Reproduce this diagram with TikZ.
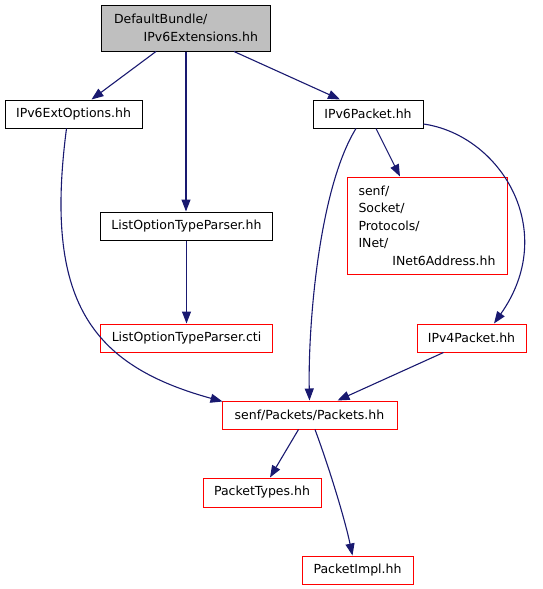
\documentclass[tikz,border=0pt]{standalone}
\usepackage{fontspec}
\setmainfont{DejaVu Sans}
\usetikzlibrary{arrows.meta,calc}
\definecolor{edgeblue}{HTML}{191970}
\definecolor{topgray}{HTML}{BFBFBF}
\definecolor{redb}{HTML}{FF0000}
\begin{document}
\begin{tikzpicture}[x=1pt,y=-1pt,
  box/.style={draw=black,line width=1pt,inner sep=0pt,minimum height=28pt,font=\fontsize{12.5}{17.5}\selectfont},
  redbox/.style={box,draw=redb},
  edge/.style={draw=edgeblue,line width=1.1pt,-{Triangle[length=12pt,width=9pt]}}]
\useasboundingbox (0,0) rectangle (543,589);
\node[box,fill=topgray,minimum width=169pt,minimum height=46pt] (top) at (186,28)
  {\parbox{144pt}{\raggedright DefaultBundle/\\\hspace*{\fill}IPv6Extensions.hh}};
\node[box,minimum width=137pt] (ext) at (73.5,114) {IPv6ExtOptions.hh};
\node[box,minimum width=110pt] (v6) at (368,114) {IPv6Packet.hh};
\node[box,minimum width=172pt] (lotp) at (186.5,226) {ListOptionTypeParser.hh};
\node[redbox,minimum width=172pt] (cti) at (186.5,338) {ListOptionTypeParser.cti};
\node[redbox,minimum width=160pt,minimum height=97pt] (inet) at (427,225.5)
  {\parbox{137pt}{\raggedright senf/\\Socket/\\Protocols/\\INet/\\\hspace*{\fill}INet6Address.hh}};
\node[redbox,minimum width=109pt] (v4) at (471.5,338) {IPv4Packet.hh};
\node[redbox,minimum width=175pt] (pk) at (309.5,415) {senf/Packets/Packets.hh};
\node[redbox,minimum width=118pt,minimum height=29pt] (pt) at (262,492.5) {PacketTypes.hh};
\node[redbox,minimum width=111pt] (pi) at (357.5,570) {PacketImpl.hh};

\draw[edge] ($(top.south)+(-30,0)$) -- ($(ext.north)+(18,0)$);
\draw[edge] (top.south) -- (top.south |- lotp.north);
\draw[edge] ($(top.south)+(48,0)$) -- ($(v6.north)+(-28,0)$);
\draw[edge] (lotp.south) -- (cti.north);
\draw[edge] ($(ext.south)+(-7,0)$) .. controls (44,300) and (90,365) .. ($(pk.north west)+(1,1)$);
\draw[edge] ($(v6.south)+(8,0)$) -- ($(inet.north)+(-27,0)$);
\draw[edge] ($(v6.south)+(-12,0)$) .. controls (318,190) and (308,330) .. (pk.north);
\draw[edge] ($(v6.east)+(0,10)$) .. controls (500,135) and (560,230) .. ($(v4.north)+(22.5,0)$);
\draw[edge] ($(v4.south)+(-28,0)$) -- ($(pk.north)+(28,0)$);
\draw[edge] ($(pk.south)+(-11,0)$) -- ($(pt.north)+(8,0)$);
\draw[edge] ($(pk.south)+(5.5,0)$) .. controls (330,470) and (345,520) .. ($(pi.north)+(-5,0)$);
\end{tikzpicture}
\end{document}
